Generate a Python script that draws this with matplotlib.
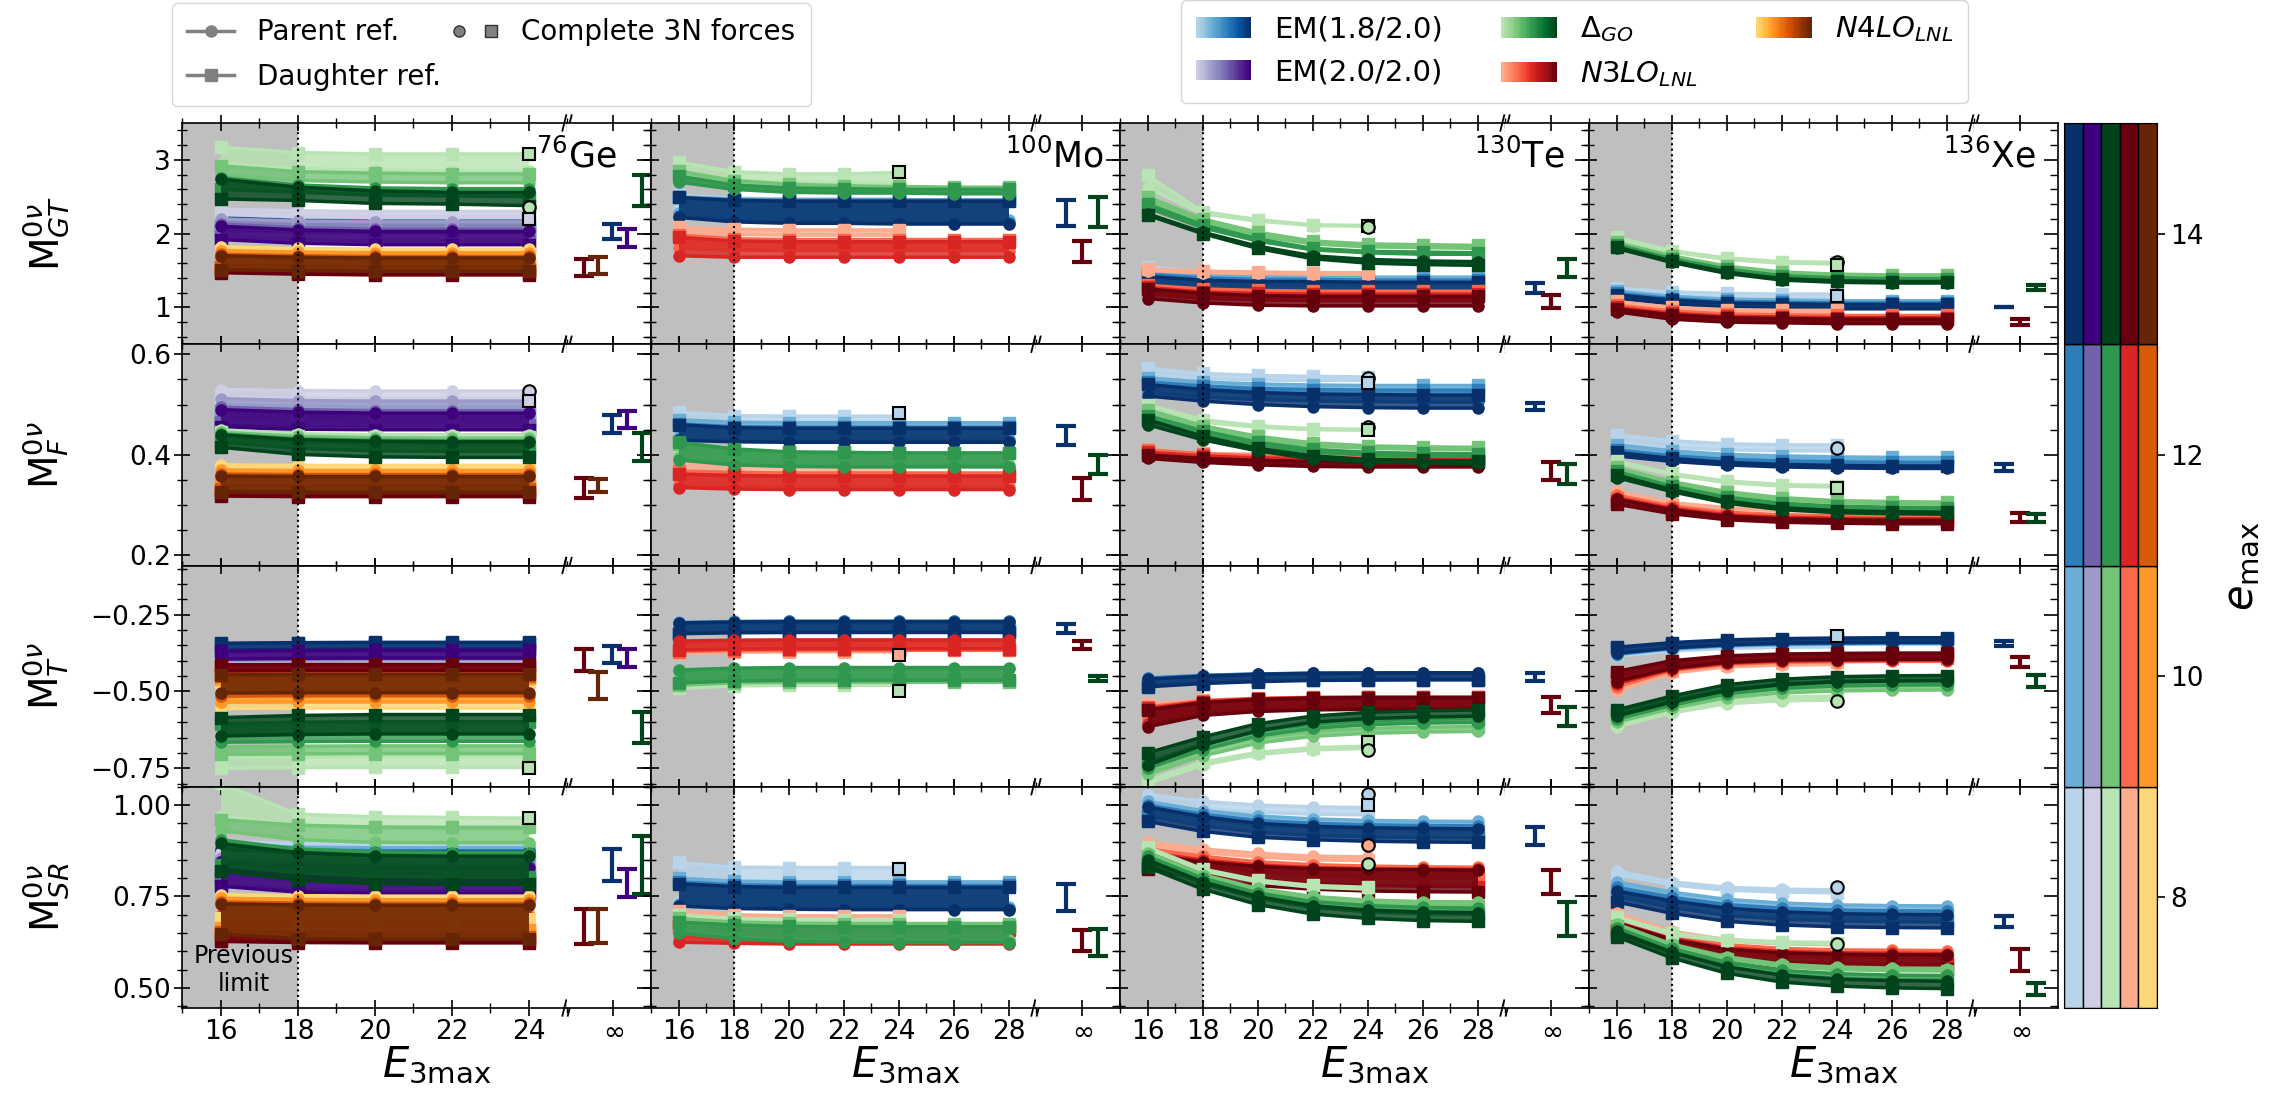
import numpy as np
import matplotlib
matplotlib.use('Agg')
import matplotlib.pyplot as plt
from matplotlib.lines import Line2D
from matplotlib.patches import Rectangle
from matplotlib.legend_handler import HandlerBase, HandlerTuple
from matplotlib.ticker import MultipleLocator, FixedLocator

# E3max grids
e3_ge = [16, 18, 20, 22, 24]
e3_rest = [16, 18, 20, 22, 24, 26, 28]

# curves: interaction -> emax -> (parent ref., daughter ref.)
ge_gt = {
    'EM18': {8: ([2.28, 2.25, 2.24, 2.24, 2.24], [2.22, 2.19, 2.18, 2.18, 2.18]),
             10: ([2.24, 2.21, 2.20, 2.20, 2.20], [2.16, 2.13, 2.12, 2.12, 2.12]),
             12: ([2.22, 2.18, 2.17, 2.17, 2.17], [2.10, 2.07, 2.06, 2.06, 2.06]),
             14: ([2.21, 2.17, 2.16, 2.16, 2.16], [2.05, 2.02, 2.01, 2.01, 2.01])},
    'EM20': {8: ([2.33, 2.31, 2.30, 2.30, 2.30], [2.26, 2.23, 2.22, 2.22, 2.22]),
             10: ([2.20, 2.17, 2.16, 2.16, 2.16], [2.08, 2.05, 2.04, 2.04, 2.04]),
             12: ([2.13, 2.08, 2.06, 2.06, 2.06], [1.96, 1.92, 1.90, 1.90, 1.90]),
             14: ([2.10, 2.05, 2.03, 2.03, 2.03], [1.92, 1.87, 1.85, 1.85, 1.85])},
    'N3LO': {8: ([1.74, 1.72, 1.71, 1.71, 1.71], [1.60, 1.58, 1.57, 1.57, 1.57]),
             10: ([1.70, 1.68, 1.67, 1.67, 1.67], [1.55, 1.53, 1.52, 1.52, 1.52]),
             12: ([1.67, 1.65, 1.64, 1.64, 1.64], [1.51, 1.49, 1.48, 1.48, 1.48]),
             14: ([1.65, 1.63, 1.62, 1.62, 1.62], [1.47, 1.45, 1.44, 1.44, 1.44])},
    'N4LO': {8: ([1.82, 1.80, 1.79, 1.79, 1.79], [1.76, 1.74, 1.73, 1.73, 1.73]),
             10: ([1.77, 1.75, 1.74, 1.74, 1.74], [1.62, 1.60, 1.59, 1.59, 1.59]),
             12: ([1.72, 1.70, 1.69, 1.69, 1.69], [1.55, 1.53, 1.52, 1.52, 1.52]),
             14: ([1.70, 1.68, 1.67, 1.67, 1.67], [1.51, 1.50, 1.49, 1.49, 1.49])},
    'DGO': {8: ([2.95, 2.88, 2.86, 2.85, 2.85], [3.17, 3.10, 3.08, 3.08, 3.08]),
            10: ([2.80, 2.72, 2.70, 2.69, 2.69], [2.92, 2.84, 2.82, 2.81, 2.81]),
            12: ([2.76, 2.66, 2.62, 2.61, 2.61], [2.60, 2.56, 2.52, 2.51, 2.50]),
            14: ([2.74, 2.63, 2.58, 2.56, 2.56], [2.47, 2.45, 2.41, 2.40, 2.38])},
}
ge_f = {
    'EM18': {8: ([0.515, 0.512, 0.511, 0.511, 0.511], [0.505, 0.502, 0.501, 0.501, 0.501]),
             10: ([0.500, 0.497, 0.496, 0.496, 0.496], [0.488, 0.485, 0.484, 0.484, 0.484]),
             12: ([0.488, 0.485, 0.484, 0.484, 0.484], [0.472, 0.469, 0.468, 0.468, 0.468]),
             14: ([0.482, 0.479, 0.478, 0.478, 0.478], [0.462, 0.459, 0.458, 0.458, 0.458])},
    'EM20': {8: ([0.530, 0.528, 0.527, 0.527, 0.527], [0.515, 0.513, 0.512, 0.512, 0.512]),
             10: ([0.512, 0.508, 0.507, 0.507, 0.507], [0.490, 0.487, 0.486, 0.486, 0.486]),
             12: ([0.495, 0.490, 0.488, 0.488, 0.488], [0.465, 0.461, 0.460, 0.460, 0.460]),
             14: ([0.490, 0.485, 0.483, 0.483, 0.483], [0.455, 0.451, 0.450, 0.450, 0.450])},
    'N3LO': {8: ([0.365, 0.364, 0.364, 0.364, 0.364], [0.340, 0.339, 0.339, 0.339, 0.339]),
             10: ([0.360, 0.359, 0.359, 0.359, 0.359], [0.330, 0.329, 0.329, 0.329, 0.329]),
             12: ([0.356, 0.355, 0.355, 0.355, 0.355], [0.323, 0.322, 0.322, 0.322, 0.322]),
             14: ([0.354, 0.353, 0.353, 0.353, 0.353], [0.318, 0.317, 0.317, 0.317, 0.317])},
    'N4LO': {8: ([0.380, 0.379, 0.379, 0.379, 0.379], [0.372, 0.371, 0.371, 0.371, 0.371]),
             10: ([0.370, 0.369, 0.369, 0.369, 0.369], [0.345, 0.344, 0.344, 0.344, 0.344]),
             12: ([0.362, 0.361, 0.361, 0.361, 0.361], [0.333, 0.332, 0.332, 0.332, 0.332]),
             14: ([0.358, 0.357, 0.357, 0.357, 0.357], [0.327, 0.326, 0.326, 0.326, 0.326])},
    'DGO': {8: ([0.450, 0.442, 0.440, 0.440, 0.440], [0.445, 0.437, 0.435, 0.435, 0.435]),
            10: ([0.445, 0.437, 0.434, 0.433, 0.433], [0.435, 0.425, 0.422, 0.421, 0.421]),
            12: ([0.442, 0.432, 0.429, 0.428, 0.428], [0.425, 0.413, 0.408, 0.407, 0.407]),
            14: ([0.440, 0.430, 0.427, 0.426, 0.426], [0.415, 0.401, 0.396, 0.395, 0.395])},
}
ge_t = {
    'EM18': {8: ([-0.370, -0.368, -0.367, -0.367, -0.367], [-0.352, -0.350, -0.349, -0.349, -0.349]),
             10: ([-0.368, -0.366, -0.365, -0.365, -0.365], [-0.348, -0.346, -0.345, -0.345, -0.345]),
             12: ([-0.366, -0.364, -0.363, -0.363, -0.363], [-0.345, -0.343, -0.342, -0.342, -0.342]),
             14: ([-0.365, -0.363, -0.362, -0.362, -0.362], [-0.343, -0.341, -0.340, -0.340, -0.340])},
    'EM20': {8: ([-0.405, -0.403, -0.402, -0.402, -0.402], [-0.385, -0.383, -0.382, -0.382, -0.382]),
             10: ([-0.400, -0.398, -0.397, -0.397, -0.397], [-0.378, -0.376, -0.375, -0.375, -0.375]),
             12: ([-0.396, -0.394, -0.393, -0.393, -0.393], [-0.372, -0.370, -0.369, -0.369, -0.369]),
             14: ([-0.394, -0.392, -0.391, -0.391, -0.391], [-0.369, -0.367, -0.366, -0.366, -0.366])},
    'N3LO': {8: ([-0.440, -0.439, -0.439, -0.439, -0.439], [-0.425, -0.424, -0.424, -0.424, -0.424]),
             10: ([-0.437, -0.436, -0.436, -0.436, -0.436], [-0.420, -0.419, -0.419, -0.419, -0.419]),
             12: ([-0.434, -0.433, -0.433, -0.433, -0.433], [-0.416, -0.415, -0.415, -0.415, -0.415]),
             14: ([-0.432, -0.431, -0.431, -0.431, -0.431], [-0.413, -0.412, -0.412, -0.412, -0.412])},
    'N4LO': {8: ([-0.555, -0.554, -0.554, -0.554, -0.554], [-0.470, -0.469, -0.469, -0.469, -0.469]),
             10: ([-0.535, -0.534, -0.534, -0.534, -0.534], [-0.458, -0.457, -0.457, -0.457, -0.457]),
             12: ([-0.515, -0.514, -0.514, -0.514, -0.514], [-0.450, -0.449, -0.449, -0.449, -0.449]),
             14: ([-0.505, -0.504, -0.504, -0.504, -0.504], [-0.445, -0.444, -0.444, -0.444, -0.444])},
    'DGO': {8: ([-0.715, -0.713, -0.712, -0.712, -0.712], [-0.750, -0.748, -0.747, -0.747, -0.747]),
            10: ([-0.680, -0.678, -0.677, -0.677, -0.677], [-0.705, -0.703, -0.702, -0.702, -0.702]),
            12: ([-0.665, -0.663, -0.662, -0.662, -0.662], [-0.605, -0.600, -0.598, -0.598, -0.598]),
            14: ([-0.645, -0.640, -0.638, -0.638, -0.638], [-0.585, -0.578, -0.575, -0.575, -0.575])},
}
ge_sr = {
    'EM18': {8: ([0.900, 0.895, 0.893, 0.893, 0.893], [0.885, 0.880, 0.878, 0.878, 0.878]),
             10: ([0.890, 0.885, 0.883, 0.883, 0.883], [0.860, 0.855, 0.853, 0.853, 0.853]),
             12: ([0.882, 0.877, 0.875, 0.875, 0.875], [0.820, 0.815, 0.813, 0.813, 0.813]),
             14: ([0.878, 0.873, 0.871, 0.871, 0.871], [0.800, 0.795, 0.793, 0.793, 0.793])},
    'EM20': {8: ([0.870, 0.860, 0.858, 0.858, 0.858], [0.840, 0.830, 0.828, 0.828, 0.828]),
             10: ([0.855, 0.845, 0.843, 0.843, 0.843], [0.800, 0.790, 0.788, 0.788, 0.788]),
             12: ([0.848, 0.836, 0.833, 0.833, 0.833], [0.785, 0.770, 0.765, 0.765, 0.765]),
             14: ([0.845, 0.832, 0.829, 0.829, 0.829], [0.778, 0.762, 0.758, 0.758, 0.758])},
    'N3LO': {8: ([0.705, 0.702, 0.701, 0.701, 0.701], [0.660, 0.657, 0.656, 0.656, 0.656]),
             10: ([0.700, 0.697, 0.696, 0.696, 0.696], [0.650, 0.647, 0.646, 0.646, 0.646]),
             12: ([0.696, 0.693, 0.692, 0.692, 0.692], [0.635, 0.632, 0.631, 0.631, 0.631]),
             14: ([0.694, 0.691, 0.690, 0.690, 0.690], [0.627, 0.624, 0.623, 0.623, 0.623])},
    'N4LO': {8: ([0.755, 0.752, 0.751, 0.751, 0.751], [0.690, 0.688, 0.687, 0.687, 0.687]),
             10: ([0.745, 0.742, 0.741, 0.741, 0.741], [0.665, 0.660, 0.659, 0.659, 0.659]),
             12: ([0.735, 0.732, 0.731, 0.731, 0.731], [0.652, 0.640, 0.638, 0.638, 0.638]),
             14: ([0.730, 0.727, 0.726, 0.726, 0.726], [0.647, 0.635, 0.633, 0.633, 0.633])},
    'DGO': {8: ([0.970, 0.945, 0.938, 0.936, 0.936], [1.060, 0.975, 0.968, 0.966, 0.964]),
            10: ([0.930, 0.905, 0.898, 0.897, 0.897], [0.960, 0.945, 0.940, 0.939, 0.939]),
            12: ([0.905, 0.880, 0.872, 0.870, 0.870], [0.835, 0.815, 0.805, 0.803, 0.803]),
            14: ([0.895, 0.870, 0.862, 0.860, 0.860], [0.820, 0.795, 0.785, 0.783, 0.783])},
}

mo_gt = {
    'EM18': {8: ([2.35, 2.30, 2.28, 2.28, 2.28], [2.52, 2.48, 2.47, 2.47, 2.47]),
             10: ([2.28, 2.22, 2.20, 2.20, 2.19, 2.19, 2.19], [2.50, 2.47, 2.46, 2.46, 2.46, 2.46, 2.46]),
             12: ([2.24, 2.18, 2.16, 2.16, 2.15, 2.15, 2.15], [2.49, 2.46, 2.45, 2.45, 2.45, 2.45, 2.45]),
             14: ([2.22, 2.16, 2.14, 2.14, 2.13, 2.13, 2.13], [2.49, 2.45, 2.44, 2.44, 2.44, 2.44, 2.44])},
    'N3LO': {8: ([2.02, 1.99, 1.98, 1.98, 1.98], [2.09, 2.06, 2.05, 2.05, 2.05]),
             10: ([1.80, 1.78, 1.77, 1.77, 1.77, 1.77, 1.77], [1.98, 1.93, 1.92, 1.92, 1.92, 1.92, 1.92]),
             12: ([1.70, 1.68, 1.68, 1.68, 1.68, 1.68, 1.68], [1.95, 1.90, 1.89, 1.89, 1.89, 1.89, 1.89])},
    'DGO': {8: ([2.80, 2.72, 2.70, 2.69, 2.69], [2.97, 2.84, 2.81, 2.81, 2.83]),
            10: ([2.75, 2.64, 2.60, 2.58, 2.58, 2.57, 2.57], [2.85, 2.72, 2.67, 2.65, 2.64, 2.63, 2.63]),
            12: ([2.70, 2.60, 2.56, 2.55, 2.55, 2.54, 2.54], [2.78, 2.66, 2.62, 2.61, 2.60, 2.60, 2.60])},
}
mo_f = {
    'EM18': {8: ([0.440, 0.437, 0.436, 0.436, 0.436], [0.485, 0.478, 0.477, 0.477, 0.477]),
             10: ([0.435, 0.432, 0.431, 0.431, 0.431, 0.431, 0.431], [0.470, 0.465, 0.464, 0.464, 0.464, 0.464, 0.464]),
             12: ([0.431, 0.428, 0.427, 0.427, 0.427, 0.427, 0.427], [0.462, 0.456, 0.455, 0.455, 0.455, 0.455, 0.455]),
             14: ([0.429, 0.426, 0.425, 0.425, 0.425, 0.425, 0.425], [0.460, 0.454, 0.453, 0.453, 0.453, 0.453, 0.453])},
    'N3LO': {8: ([0.360, 0.358, 0.357, 0.357, 0.357], [0.385, 0.382, 0.381, 0.381, 0.381]),
             10: ([0.340, 0.337, 0.336, 0.336, 0.336, 0.336, 0.336], [0.368, 0.365, 0.364, 0.364, 0.364, 0.364, 0.364]),
             12: ([0.335, 0.332, 0.331, 0.331, 0.331, 0.331, 0.331], [0.362, 0.359, 0.358, 0.358, 0.358, 0.358, 0.358])},
    'DGO': {8: ([0.400, 0.392, 0.390, 0.389, 0.389], [0.420, 0.405, 0.400, 0.399, 0.399]),
            10: ([0.395, 0.385, 0.381, 0.380, 0.380, 0.380, 0.380], [0.422, 0.410, 0.405, 0.404, 0.403, 0.403, 0.403]),
            12: ([0.390, 0.380, 0.377, 0.376, 0.376, 0.376, 0.376], [0.425, 0.412, 0.406, 0.405, 0.404, 0.404, 0.404])},
}
mo_t = {
    'EM18': {8: ([-0.275, -0.272, -0.271, -0.271, -0.271], [-0.300, -0.297, -0.296, -0.296, -0.296]),
             10: ([-0.275, -0.272, -0.271, -0.271, -0.271, -0.271, -0.271], [-0.305, -0.302, -0.301, -0.301, -0.301, -0.301, -0.301]),
             12: ([-0.276, -0.273, -0.272, -0.272, -0.272, -0.272, -0.272], [-0.310, -0.307, -0.306, -0.306, -0.306, -0.306, -0.306]),
             14: ([-0.277, -0.274, -0.273, -0.273, -0.273, -0.273, -0.273], [-0.312, -0.309, -0.308, -0.308, -0.308, -0.308, -0.308])},
    'N3LO': {8: ([-0.345, -0.342, -0.341, -0.341, -0.341], [-0.375, -0.372, -0.371, -0.371, -0.371]),
             10: ([-0.340, -0.337, -0.336, -0.336, -0.336, -0.336, -0.336], [-0.370, -0.367, -0.366, -0.366, -0.366, -0.366, -0.366]),
             12: ([-0.336, -0.333, -0.332, -0.332, -0.332, -0.332, -0.332], [-0.365, -0.362, -0.361, -0.361, -0.361, -0.361, -0.361])},
    'DGO': {8: ([-0.440, -0.432, -0.430, -0.430, -0.430], [-0.490, -0.482, -0.480, -0.480, -0.480]),
            10: ([-0.435, -0.428, -0.426, -0.426, -0.426, -0.426, -0.426], [-0.480, -0.472, -0.470, -0.470, -0.470, -0.470, -0.470]),
            12: ([-0.430, -0.424, -0.422, -0.422, -0.422, -0.422, -0.422], [-0.472, -0.466, -0.464, -0.464, -0.464, -0.464, -0.464])},
}
mo_sr = {
    'EM18': {8: ([0.735, 0.728, 0.726, 0.726, 0.726], [0.843, 0.830, 0.829, 0.829, 0.829]),
             10: ([0.730, 0.723, 0.721, 0.720, 0.720, 0.720, 0.720], [0.800, 0.792, 0.790, 0.790, 0.790, 0.790, 0.790]),
             12: ([0.726, 0.719, 0.717, 0.716, 0.716, 0.716, 0.716], [0.790, 0.782, 0.780, 0.780, 0.780, 0.780, 0.780]),
             14: ([0.724, 0.717, 0.715, 0.714, 0.714, 0.714, 0.714], [0.785, 0.777, 0.775, 0.775, 0.775, 0.775, 0.775])},
    'N3LO': {8: ([0.660, 0.652, 0.650, 0.650, 0.650], [0.710, 0.700, 0.697, 0.697, 0.697]),
             10: ([0.640, 0.632, 0.630, 0.630, 0.630, 0.630, 0.630], [0.680, 0.672, 0.670, 0.670, 0.670, 0.670, 0.670]),
             12: ([0.625, 0.622, 0.620, 0.620, 0.620, 0.620, 0.620], [0.668, 0.660, 0.658, 0.658, 0.658, 0.658, 0.658])},
    'DGO': {8: ([0.690, 0.680, 0.677, 0.676, 0.676], [0.700, 0.690, 0.687, 0.686, 0.686]),
            10: ([0.655, 0.640, 0.632, 0.630, 0.630, 0.630, 0.630], [0.690, 0.680, 0.677, 0.676, 0.676, 0.676, 0.676]),
            12: ([0.650, 0.635, 0.627, 0.625, 0.624, 0.624, 0.624], [0.680, 0.672, 0.668, 0.667, 0.667, 0.667, 0.667])},
}

te_gt = {
    'EM18': {8: ([1.42, 1.40, 1.40, 1.39, 1.39], [1.55, 1.48, 1.46, 1.45, 1.45]),
             10: ([1.36, 1.32, 1.30, 1.30, 1.30, 1.30, 1.30], [1.50, 1.44, 1.42, 1.41, 1.41, 1.41, 1.41]),
             12: ([1.30, 1.26, 1.24, 1.23, 1.23, 1.23, 1.23], [1.45, 1.40, 1.38, 1.38, 1.37, 1.37, 1.37]),
             14: ([1.27, 1.23, 1.21, 1.20, 1.20, 1.20, 1.20], [1.42, 1.37, 1.35, 1.35, 1.34, 1.34, 1.34])},
    'N3LO': {8: ([1.50, 1.47, 1.46, 1.45, 1.45], [1.52, 1.49, 1.48, 1.47, 1.47]),
             10: ([1.22, 1.17, 1.15, 1.14, 1.14, 1.14, 1.14], [1.30, 1.25, 1.23, 1.22, 1.22, 1.22, 1.22]),
             12: ([1.18, 1.12, 1.10, 1.09, 1.09, 1.09, 1.09], [1.27, 1.21, 1.19, 1.18, 1.18, 1.18, 1.18]),
             14: ([1.12, 1.06, 1.03, 1.02, 1.02, 1.02, 1.02], [1.25, 1.19, 1.16, 1.15, 1.15, 1.15, 1.15])},
    'DGO': {8: ([2.62, 2.27, 2.17, 2.11, 2.10], [2.79, 2.30, 2.19, 2.12, 2.11]),
            10: ([2.45, 2.15, 1.97, 1.86, 1.82, 1.81, 1.80], [2.50, 2.20, 2.02, 1.90, 1.86, 1.85, 1.84]),
            12: ([2.35, 2.08, 1.90, 1.78, 1.74, 1.72, 1.72], [2.40, 2.12, 1.93, 1.80, 1.76, 1.75, 1.74]),
            14: ([2.27, 2.02, 1.83, 1.70, 1.65, 1.63, 1.62], [2.25, 2.00, 1.80, 1.66, 1.60, 1.58, 1.57])},
}
te_f = {
    'EM18': {8: ([0.560, 0.552, 0.549, 0.548, 0.548], [0.572, 0.562, 0.558, 0.556, 0.555]),
             10: ([0.535, 0.527, 0.523, 0.521, 0.520, 0.520, 0.520], [0.553, 0.545, 0.541, 0.539, 0.538, 0.538, 0.538]),
             12: ([0.525, 0.515, 0.510, 0.507, 0.506, 0.505, 0.505], [0.545, 0.537, 0.532, 0.530, 0.529, 0.529, 0.529]),
             14: ([0.517, 0.507, 0.500, 0.496, 0.494, 0.493, 0.493], [0.540, 0.530, 0.524, 0.521, 0.520, 0.519, 0.519])},
    'N3LO': {8: ([0.405, 0.398, 0.396, 0.396, 0.396], [0.410, 0.403, 0.401, 0.401, 0.401]),
             10: ([0.400, 0.392, 0.388, 0.386, 0.385, 0.385, 0.385], [0.410, 0.402, 0.398, 0.396, 0.395, 0.395, 0.395]),
             12: ([0.397, 0.389, 0.385, 0.382, 0.381, 0.381, 0.381], [0.405, 0.398, 0.394, 0.392, 0.391, 0.391, 0.391]),
             14: ([0.393, 0.385, 0.380, 0.377, 0.376, 0.376, 0.376], [0.400, 0.393, 0.389, 0.387, 0.386, 0.386, 0.386])},
    'DGO': {8: ([0.490, 0.465, 0.455, 0.450, 0.449], [0.500, 0.470, 0.458, 0.452, 0.451]),
            10: ([0.480, 0.450, 0.430, 0.418, 0.413, 0.411, 0.410], [0.490, 0.458, 0.437, 0.424, 0.418, 0.416, 0.415]),
            12: ([0.470, 0.440, 0.418, 0.405, 0.400, 0.398, 0.397], [0.478, 0.448, 0.425, 0.411, 0.405, 0.403, 0.402]),
            14: ([0.460, 0.430, 0.408, 0.392, 0.386, 0.384, 0.383], [0.470, 0.437, 0.413, 0.398, 0.391, 0.389, 0.388])},
}
te_t = {
    'EM18': {8: ([-0.455, -0.448, -0.446, -0.445, -0.445], [-0.470, -0.462, -0.459, -0.458, -0.458]),
             10: ([-0.455, -0.447, -0.443, -0.441, -0.440, -0.440, -0.440], [-0.475, -0.466, -0.462, -0.460, -0.459, -0.459, -0.459]),
             12: ([-0.457, -0.448, -0.443, -0.440, -0.439, -0.439, -0.439], [-0.480, -0.470, -0.465, -0.462, -0.461, -0.461, -0.461]),
             14: ([-0.460, -0.450, -0.444, -0.441, -0.440, -0.439, -0.439], [-0.485, -0.474, -0.468, -0.464, -0.463, -0.462, -0.462])},
    'N3LO': {8: ([-0.560, -0.545, -0.540, -0.538, -0.537], [-0.540, -0.528, -0.524, -0.522, -0.521]),
             10: ([-0.590, -0.560, -0.550, -0.546, -0.545, -0.545, -0.545], [-0.550, -0.530, -0.522, -0.519, -0.518, -0.518, -0.518]),
             12: ([-0.605, -0.570, -0.558, -0.553, -0.552, -0.552, -0.552], [-0.555, -0.533, -0.524, -0.520, -0.519, -0.519, -0.519]),
             14: ([-0.615, -0.578, -0.565, -0.560, -0.558, -0.558, -0.558], [-0.560, -0.536, -0.526, -0.521, -0.520, -0.520, -0.520])},
    'DGO': {8: ([-0.800, -0.740, -0.705, -0.690, -0.685], [-0.790, -0.730, -0.698, -0.683, -0.678]),
            10: ([-0.770, -0.710, -0.668, -0.646, -0.636, -0.632, -0.630], [-0.750, -0.690, -0.650, -0.630, -0.620, -0.616, -0.614]),
            12: ([-0.750, -0.690, -0.645, -0.620, -0.608, -0.603, -0.601], [-0.730, -0.672, -0.630, -0.606, -0.595, -0.590, -0.588]),
            14: ([-0.740, -0.675, -0.628, -0.600, -0.588, -0.583, -0.580], [-0.700, -0.648, -0.605, -0.580, -0.568, -0.563, -0.560])},
}
te_sr = {
    'EM18': {8: ([1.030, 1.010, 1.000, 0.995, 0.993], [1.010, 0.990, 0.980, 0.975, 0.973]),
             10: ([1.010, 0.985, 0.970, 0.962, 0.958, 0.956, 0.955], [0.985, 0.960, 0.945, 0.937, 0.933, 0.931, 0.930]),
             12: ([1.000, 0.975, 0.958, 0.950, 0.946, 0.944, 0.943], [0.970, 0.943, 0.926, 0.917, 0.913, 0.911, 0.910]),
             14: ([0.995, 0.968, 0.950, 0.942, 0.938, 0.936, 0.935], [0.955, 0.928, 0.912, 0.905, 0.901, 0.899, 0.898])},
    'N3LO': {8: ([0.900, 0.880, 0.868, 0.860, 0.858], [0.890, 0.870, 0.858, 0.850, 0.848]),
             10: ([0.880, 0.860, 0.845, 0.837, 0.833, 0.831, 0.830], [0.860, 0.835, 0.818, 0.808, 0.803, 0.801, 0.800]),
             12: ([0.870, 0.850, 0.836, 0.829, 0.826, 0.825, 0.824], [0.840, 0.812, 0.795, 0.785, 0.780, 0.778, 0.777]),
             14: ([0.865, 0.845, 0.832, 0.826, 0.824, 0.823, 0.822], [0.825, 0.797, 0.780, 0.770, 0.765, 0.763, 0.762])},
    'DGO': {8: ([0.880, 0.820, 0.790, 0.775, 0.770], [0.885, 0.825, 0.795, 0.780, 0.775]),
            10: ([0.870, 0.810, 0.772, 0.750, 0.740, 0.736, 0.735], [0.860, 0.800, 0.762, 0.740, 0.730, 0.726, 0.725]),
            12: ([0.860, 0.800, 0.760, 0.736, 0.725, 0.720, 0.718], [0.845, 0.785, 0.745, 0.720, 0.708, 0.703, 0.701]),
            14: ([0.850, 0.790, 0.750, 0.725, 0.713, 0.708, 0.706], [0.830, 0.770, 0.728, 0.702, 0.690, 0.684, 0.682])},
}

xe_gt = {
    'EM18': {8: ([1.20, 1.15, 1.13, 1.12, 1.12], [1.26, 1.21, 1.19, 1.18, 1.18]),
             10: ([1.15, 1.09, 1.05, 1.04, 1.03, 1.03, 1.03], [1.22, 1.15, 1.11, 1.10, 1.09, 1.09, 1.09]),
             12: ([1.13, 1.06, 1.02, 1.01, 1.00, 1.00, 1.00], [1.19, 1.12, 1.08, 1.07, 1.06, 1.06, 1.06]),
             14: ([1.12, 1.05, 1.00, 0.99, 0.98, 0.98, 0.98], [1.17, 1.10, 1.06, 1.05, 1.04, 1.04, 1.04])},
    'N3LO': {8: ([1.05, 0.97, 0.94, 0.93, 0.93], [1.08, 1.00, 0.97, 0.96, 0.96]),
             10: ([0.98, 0.90, 0.86, 0.85, 0.84, 0.84, 0.84], [1.03, 0.95, 0.91, 0.90, 0.89, 0.89, 0.89]),
             12: ([0.95, 0.86, 0.82, 0.81, 0.80, 0.80, 0.80], [1.00, 0.92, 0.88, 0.87, 0.86, 0.86, 0.86]),
             14: ([0.94, 0.84, 0.80, 0.79, 0.78, 0.78, 0.78], [0.98, 0.90, 0.86, 0.85, 0.84, 0.84, 0.84])},
    'DGO': {8: ([1.92, 1.75, 1.65, 1.60, 1.59], [1.95, 1.77, 1.67, 1.62, 1.61]),
            10: ([1.86, 1.68, 1.54, 1.46, 1.43, 1.42, 1.42], [1.88, 1.70, 1.56, 1.48, 1.45, 1.44, 1.44]),
            12: ([1.83, 1.64, 1.50, 1.41, 1.38, 1.37, 1.37], [1.85, 1.66, 1.52, 1.43, 1.40, 1.39, 1.39]),
            14: ([1.80, 1.61, 1.46, 1.37, 1.34, 1.33, 1.33], [1.82, 1.63, 1.48, 1.39, 1.36, 1.35, 1.35])},
}
xe_f = {
    'EM18': {8: ([0.425, 0.415, 0.410, 0.408, 0.408], [0.440, 0.428, 0.422, 0.420, 0.420]),
             10: ([0.410, 0.400, 0.394, 0.391, 0.390, 0.389, 0.389], [0.420, 0.408, 0.401, 0.398, 0.396, 0.395, 0.395]),
             12: ([0.402, 0.392, 0.385, 0.381, 0.380, 0.379, 0.379], [0.410, 0.398, 0.391, 0.388, 0.386, 0.385, 0.385]),
             14: ([0.398, 0.387, 0.380, 0.376, 0.374, 0.373, 0.373], [0.405, 0.393, 0.385, 0.381, 0.379, 0.378, 0.378])},
    'N3LO': {8: ([0.328, 0.305, 0.295, 0.291, 0.290], [0.325, 0.303, 0.293, 0.289, 0.288]),
             10: ([0.320, 0.298, 0.286, 0.281, 0.279, 0.278, 0.278], [0.315, 0.294, 0.282, 0.277, 0.275, 0.274, 0.274]),
             12: ([0.315, 0.294, 0.281, 0.276, 0.274, 0.273, 0.273], [0.308, 0.288, 0.276, 0.271, 0.269, 0.268, 0.268]),
             14: ([0.312, 0.291, 0.278, 0.273, 0.271, 0.270, 0.270], [0.302, 0.283, 0.271, 0.266, 0.264, 0.263, 0.263])},
    'DGO': {8: ([0.385, 0.360, 0.345, 0.338, 0.336], [0.388, 0.363, 0.348, 0.341, 0.339]),
            10: ([0.370, 0.343, 0.322, 0.311, 0.305, 0.303, 0.302], [0.375, 0.347, 0.327, 0.315, 0.309, 0.307, 0.306]),
            12: ([0.362, 0.334, 0.312, 0.300, 0.294, 0.292, 0.291], [0.367, 0.338, 0.316, 0.304, 0.298, 0.296, 0.295]),
            14: ([0.355, 0.327, 0.304, 0.291, 0.285, 0.283, 0.282], [0.360, 0.331, 0.308, 0.295, 0.289, 0.287, 0.286])},
}
xe_t = {
    'EM18': {8: ([-0.385, -0.368, -0.360, -0.356, -0.355], [-0.375, -0.360, -0.352, -0.348, -0.347]),
             10: ([-0.380, -0.362, -0.352, -0.348, -0.346, -0.345, -0.345], [-0.365, -0.350, -0.341, -0.337, -0.335, -0.334, -0.334]),
             12: ([-0.378, -0.360, -0.350, -0.345, -0.343, -0.342, -0.342], [-0.360, -0.345, -0.336, -0.332, -0.330, -0.329, -0.329]),
             14: ([-0.376, -0.358, -0.348, -0.343, -0.341, -0.340, -0.340], [-0.356, -0.341, -0.332, -0.328, -0.326, -0.325, -0.325])},
    'N3LO': {8: ([-0.500, -0.440, -0.420, -0.414, -0.412], [-0.490, -0.432, -0.413, -0.407, -0.405]),
             10: ([-0.485, -0.432, -0.412, -0.405, -0.403, -0.402, -0.402], [-0.465, -0.418, -0.400, -0.394, -0.392, -0.391, -0.391]),
             12: ([-0.475, -0.428, -0.408, -0.401, -0.399, -0.398, -0.398], [-0.448, -0.408, -0.391, -0.385, -0.383, -0.382, -0.382]),
             14: ([-0.468, -0.425, -0.405, -0.398, -0.396, -0.395, -0.395], [-0.435, -0.400, -0.384, -0.378, -0.376, -0.375, -0.375])},
    'DGO': {8: ([-0.615, -0.570, -0.540, -0.530, -0.528], [-0.600, -0.556, -0.528, -0.518, -0.515]),
            10: ([-0.600, -0.555, -0.520, -0.505, -0.498, -0.496, -0.495], [-0.585, -0.540, -0.505, -0.490, -0.483, -0.481, -0.480]),
            12: ([-0.590, -0.545, -0.508, -0.490, -0.482, -0.479, -0.478], [-0.572, -0.528, -0.492, -0.475, -0.467, -0.464, -0.463]),
            14: ([-0.580, -0.535, -0.497, -0.478, -0.469, -0.466, -0.465], [-0.560, -0.515, -0.478, -0.460, -0.452, -0.449, -0.448])},
}
xe_sr = {
    'EM18': {8: ([0.820, 0.790, 0.775, 0.770, 0.768], [0.810, 0.782, 0.767, 0.762, 0.760]),
             10: ([0.790, 0.762, 0.742, 0.732, 0.727, 0.725, 0.724], [0.770, 0.740, 0.720, 0.710, 0.705, 0.703, 0.702]),
             12: ([0.775, 0.748, 0.728, 0.718, 0.713, 0.711, 0.710], [0.750, 0.720, 0.698, 0.688, 0.683, 0.681, 0.680]),
             14: ([0.765, 0.738, 0.718, 0.708, 0.703, 0.701, 0.700], [0.735, 0.704, 0.682, 0.672, 0.667, 0.665, 0.664])},
    'N3LO': {8: ([0.705, 0.655, 0.632, 0.624, 0.622], [0.700, 0.650, 0.628, 0.620, 0.618]),
             10: ([0.690, 0.643, 0.618, 0.608, 0.604, 0.603, 0.602], [0.675, 0.625, 0.598, 0.588, 0.584, 0.583, 0.582]),
             12: ([0.682, 0.636, 0.610, 0.600, 0.596, 0.595, 0.594], [0.660, 0.608, 0.580, 0.570, 0.566, 0.565, 0.564]),
             14: ([0.678, 0.632, 0.606, 0.596, 0.592, 0.591, 0.590], [0.650, 0.597, 0.568, 0.558, 0.554, 0.553, 0.552])},
    'DGO': {8: ([0.690, 0.645, 0.628, 0.622, 0.620], [0.695, 0.650, 0.632, 0.626, 0.624]),
            10: ([0.675, 0.620, 0.585, 0.565, 0.557, 0.554, 0.553], [0.670, 0.615, 0.578, 0.558, 0.550, 0.547, 0.546]),
            12: ([0.665, 0.608, 0.570, 0.548, 0.539, 0.535, 0.534], [0.655, 0.598, 0.558, 0.536, 0.526, 0.522, 0.521]),
            14: ([0.655, 0.598, 0.558, 0.535, 0.524, 0.520, 0.518], [0.640, 0.582, 0.540, 0.516, 0.505, 0.500, 0.498])},
}

# extrapolated E3max -> infinity ranges (low, high)
inf_ge = {
    'GT': {'N3LO': (1.43, 1.66), 'N4LO': (1.45, 1.68), 'EM18': (1.93, 2.13), 'EM20': (1.82, 2.06), 'DGO': (2.38, 2.79)},
    'F': {'N3LO': (0.315, 0.355), 'N4LO': (0.327, 0.353), 'EM18': (0.443, 0.48), 'EM20': (0.453, 0.487), 'DGO': (0.387, 0.443)},
    'T': {'N3LO': (-0.433, -0.363), 'N4LO': (-0.524, -0.438), 'EM18': (-0.406, -0.352), 'EM20': (-0.42, -0.363), 'DGO': (-0.669, -0.567)},
    'SR': {'N3LO': (0.62, 0.716), 'N4LO': (0.623, 0.716), 'EM18': (0.793, 0.879), 'EM20': (0.748, 0.825), 'DGO': (0.756, 0.915)},
}
inf_mo = {
    'GT': {'EM18': (2.11, 2.45), 'N3LO': (1.61, 1.90), 'DGO': (2.09, 2.50)},
    'F': {'EM18': (0.42, 0.457), 'N3LO': (0.311, 0.355), 'DGO': (0.361, 0.40)},
    'T': {'EM18': (-0.309, -0.28), 'N3LO': (-0.363, -0.336), 'DGO': (-0.467, -0.451)},
    'SR': {'EM18': (0.71, 0.785), 'N3LO': (0.602, 0.659), 'DGO': (0.588, 0.661)},
}
inf_te = {
    'GT': {'EM18': (1.19, 1.33), 'N3LO': (0.99, 1.17), 'DGO': (1.41, 1.66)},
    'F': {'EM18': (0.489, 0.503), 'N3LO': (0.351, 0.385), 'DGO': (0.343, 0.381)},
    'T': {'EM18': (-0.465, -0.441), 'N3LO': (-0.569, -0.517), 'DGO': (-0.613, -0.551)},
    'SR': {'EM18': (0.891, 0.94), 'N3LO': (0.756, 0.823), 'DGO': (0.643, 0.734)},
}
inf_xe = {
    'GT': {'EM18': (1.00, 1.01), 'N3LO': (0.76, 0.84), 'DGO': (1.24, 1.30)},
    'F': {'EM18': (0.368, 0.381), 'N3LO': (0.267, 0.285), 'DGO': (0.267, 0.283)},
    'T': {'EM18': (-0.352, -0.336), 'N3LO': (-0.42, -0.387), 'DGO': (-0.487, -0.446)},
    'SR': {'EM18': (0.667, 0.697), 'N3LO': (0.545, 0.606), 'DGO': (0.481, 0.513)},
}

# complete 3N forces points at E3max = 24: (interaction, marker, value)
c3n_ge = {'GT': [('DGO', 's', 3.08), ('DGO', 'o', 2.36), ('EM20', 's', 2.20)],
          'F': [('EM20', 'o', 0.527), ('EM20', 's', 0.507)],
          'T': [('DGO', 's', -0.75)],
          'SR': [('DGO', 's', 0.964)]}
c3n_mo = {'GT': [('DGO', 's', 2.83)], 'F': [('EM18', 's', 0.483)],
          'T': [('N3LO', 's', -0.38), ('DGO', 's', -0.497)], 'SR': [('EM18', 's', 0.824)]}
c3n_te = {'GT': [('DGO', 's', 2.11), ('DGO', 'o', 2.09)],
          'F': [('EM18', 'o', 0.553), ('EM18', 's', 0.543), ('DGO', 'o', 0.455), ('DGO', 's', 0.45)],
          'T': [('DGO', 's', -0.665), ('DGO', 'o', -0.69)],
          'SR': [('EM18', 'o', 1.03), ('EM18', 's', 1.0), ('N3LO', 'o', 0.89), ('DGO', 'o', 0.84)]}
c3n_xe = {'GT': [('DGO', 'o', 1.61), ('DGO', 's', 1.57), ('EM18', 's', 1.16)],
          'F': [('EM18', 'o', 0.413), ('DGO', 's', 0.335)],
          'T': [('EM18', 's', -0.32), ('DGO', 'o', -0.53)],
          'SR': [('EM18', 'o', 0.775), ('DGO', 'o', 0.62)]}

nuclei = ['ge', 'mo', 'te', 'xe']
nucleus_labels = [r'$^{76}$Ge', r'$^{100}$Mo', r'$^{130}$Te', r'$^{136}$Xe']
operators = ['GT', 'F', 'T', 'SR']
operator_labels = [r'M$^{0\nu}_{GT}$', r'M$^{0\nu}_{F}$', r'M$^{0\nu}_{T}$', r'M$^{0\nu}_{SR}$']
emax_values = [8, 10, 12, 14]

curves = {
    'ge': {'GT': ge_gt, 'F': ge_f, 'T': ge_t, 'SR': ge_sr},
    'mo': {'GT': mo_gt, 'F': mo_f, 'T': mo_t, 'SR': mo_sr},
    'te': {'GT': te_gt, 'F': te_f, 'T': te_t, 'SR': te_sr},
    'xe': {'GT': xe_gt, 'F': xe_f, 'T': xe_t, 'SR': xe_sr},
}
inf_ranges = {'ge': inf_ge, 'mo': inf_mo, 'te': inf_te, 'xe': inf_xe}
complete3n = {'ge': c3n_ge, 'mo': c3n_mo, 'te': c3n_te, 'xe': c3n_xe}

# styling
CMAPS = {'EM18': 'Blues', 'EM20': 'Purples', 'DGO': 'Greens', 'N3LO': 'Reds', 'N4LO': 'YlOrBr'}
SHADE = {8: 0.3, 10: 0.5, 12: 0.7, 14: 1.0}
DRAW_ORDER = ['EM18', 'EM20', 'N3LO', 'N4LO', 'DGO']
INF_POS = {'ge': {'N3LO': 0.2, 'N4LO': 0.37, 'EM18': 0.53, 'EM20': 0.72, 'DGO': 0.89},
           'rest': {'EM18': 0.36, 'N3LO': 0.55, 'DGO': 0.74}}
YLIMS = [(0.5, 3.5), (0.18, 0.62), (-0.81, -0.09), (0.445, 1.05)]
YMAJOR = [[1, 2, 3], [0.2, 0.4, 0.6], [-0.75, -0.5, -0.25], [0.5, 0.75, 1.0]]
YMINOR = [0.2, 0.05, 0.05, 0.05]


def shade(key, emax):
    return plt.get_cmap(CMAPS[key])(SHADE[emax])


class GradientKey:
    def __init__(self, cmap):
        self.cmap = cmap


class GradientHandler(HandlerBase):
    def create_artists(self, legend, orig_handle, xdescent, ydescent,
                       width, height, fontsize, trans):
        cols = plt.get_cmap(orig_handle.cmap)(np.linspace(0.3, 1.0, 24))
        step = width / len(cols)
        return [Rectangle((-xdescent + i * step, -ydescent), step * 1.05, height,
                          facecolor=cc, edgecolor='none', transform=trans)
                for i, cc in enumerate(cols)]


W, H = 2282, 1095
fig = plt.figure(figsize=(W / 100, H / 100), dpi=100)

x0, main_w, inf_w = 182, 385, 84
row_top, row_h = 123, 221.25

for r, op in enumerate(operators):
    bottom = H - (row_top + (r + 1) * row_h)
    for c, nuc in enumerate(nuclei):
        left = x0 + c * (main_w + inf_w)
        ax = fig.add_axes([left / W, bottom / H, main_w / W, row_h / H])
        axi = fig.add_axes([(left + main_w) / W, bottom / H, inf_w / W, row_h / H])

        grid = e3_ge if nuc == 'ge' else e3_rest
        xmax = 25 if nuc == 'ge' else 29

        # previous limit shading
        ax.axvspan(15, 18, color='#bfbfbf', lw=0, zorder=0)
        ax.axvline(18, color='k', ls=':', lw=1.5, zorder=6)

        data = curves[nuc][op]
        for key in DRAW_ORDER:
            if key not in data:
                continue
            for em in emax_values:
                if em not in data[key]:
                    continue
                par, dau = data[key][em]
                x = grid[:len(par)]
                col = shade(key, em)
                ax.fill_between(x, par, dau, color=col, alpha=0.8, lw=0, zorder=2)
                ax.plot(x, par, '-o', color=col, lw=2.5, ms=8, zorder=2)
                ax.plot(x, dau, '-s', color=col, lw=2.5, ms=8, zorder=2)

        for key, mk, val in complete3n[nuc][op]:
            ax.plot(24, val, marker=mk, color=shade(key, 8), mec='k', mew=1.5,
                    ms=9, ls='none', zorder=5)

        ax.set_xlim(15, xmax)
        ax.set_ylim(*YLIMS[r])
        ax.xaxis.set_major_locator(MultipleLocator(2))
        ax.xaxis.set_minor_locator(MultipleLocator(1))
        ax.yaxis.set_major_locator(FixedLocator(YMAJOR[r]))
        ax.yaxis.set_minor_locator(MultipleLocator(YMINOR[r]))
        ax.tick_params(which='both', direction='inout', top=True, right=False,
                       labelsize=19, pad=2)
        ax.tick_params(which='major', length=12, width=1.2)
        ax.tick_params(which='minor', length=7, width=1.0)
        ax.spines['right'].set_visible(False)
        for s in ax.spines.values():
            s.set_linewidth(1.2)
        if c > 0:
            ax.tick_params(labelleft=False)
        if r < 3:
            ax.tick_params(labelbottom=False)

        # infinity panel
        pos = INF_POS['ge'] if nuc == 'ge' else INF_POS['rest']
        for key, (lo, hi) in inf_ranges[nuc][op].items():
            axi.errorbar(pos[key], (lo + hi) / 2, yerr=(hi - lo) / 2, fmt='none',
                         ecolor=shade(key, 14), elinewidth=3, capsize=7, capthick=3)
        axi.set_xlim(0, 1)
        axi.set_ylim(*YLIMS[r])
        axi.set_xticks([0.55])
        axi.set_xticklabels([r'$\infty$'] if r == 3 else [''])
        axi.yaxis.set_major_locator(FixedLocator(YMAJOR[r]))
        axi.yaxis.set_minor_locator(MultipleLocator(YMINOR[r]))
        axi.tick_params(axis='x', which='both', direction='inout', top=True,
                        length=12, width=1.2, labelsize=19, pad=2)
        axi.tick_params(axis='y', which='both', direction='in', left=False,
                        right=True, labelleft=False)
        axi.tick_params(axis='y', which='major', length=10, width=1.2)
        axi.tick_params(axis='y', which='minor', length=6, width=1.0)
        axi.spines['left'].set_visible(False)
        for s in axi.spines.values():
            s.set_linewidth(1.2)

        # break marks
        for yb in (0, 1):
            for dx in (-0.007, 0.007):
                ax.plot([1 + dx - 0.005, 1 + dx + 0.005], [yb - 0.035, yb + 0.035],
                        transform=ax.transAxes, color='k', lw=1.3,
                        clip_on=False, zorder=10)

        if r == 0:
            fig.text(0.92, 0.93, nucleus_labels[c], transform=ax.transAxes,
                     ha='left', va='top', fontsize=25, zorder=20)
        if r == 3:
            fig.text((left + 255) / W, 0.027, r'$E_{3\mathrm{max}}$',
                     ha='center', va='center', fontsize=30)
        if r == 3 and c == 0:
            ax.text(16.6, 0.548, 'Previous\nlimit', ha='center', va='center',
                    fontsize=17, zorder=6)

    fig.text(0.02, (bottom + row_h / 2) / H, operator_labels[r], rotation=90,
             ha='center', va='center', fontsize=28)

# e_max colour key
cax = fig.add_axes([2064 / W, (H - 1008) / H, 93 / W, 885 / H])
for i, key in enumerate(['EM18', 'EM20', 'DGO', 'N3LO', 'N4LO']):
    for em in emax_values:
        cax.add_patch(Rectangle((i, em - 1), 1, 2, facecolor=shade(key, em),
                                edgecolor='k', lw=1))
cax.set_xlim(0, 5)
cax.set_ylim(7, 15)
cax.set_xticks([])
cax.yaxis.tick_right()
cax.set_yticks([8, 10, 12, 14])
cax.tick_params(axis='y', labelsize=19, length=6, width=1.2)
cax.yaxis.set_label_position('right')
cax.set_ylabel(r'$e_{\mathrm{max}}$', fontsize=30, labelpad=12)

# legends
h_par = Line2D([], [], color='gray', marker='o', lw=2.5, ms=8)
h_dau = Line2D([], [], color='gray', marker='s', lw=2.5, ms=8)
h_c3o = Line2D([], [], ls='none', marker='o', color='gray', mec='#333333', ms=8)
h_c3s = Line2D([], [], ls='none', marker='s', color='gray', mec='#333333', ms=8)
fig.legend([h_par, h_dau, (h_c3o, h_c3s)],
           ['Parent ref.', 'Daughter ref.', 'Complete 3N forces'],
           ncol=2, loc='upper left', bbox_to_anchor=(172 / W, 1 - 3 / H),
           borderaxespad=0, fontsize=20, labelspacing=0.6, borderpad=0.55,
           handlelength=1.7, columnspacing=0.4,
           handler_map={tuple: HandlerTuple(ndivide=None, pad=0.6)})

grad_handles = [GradientKey(CMAPS[k]) for k in ['EM18', 'EM20', 'DGO', 'N3LO', 'N4LO']]
fig.legend(grad_handles,
           ['EM(1.8/2.0)', 'EM(2.0/2.0)', r'$\Delta_{GO}$', r'$N3LO_{LNL}$', r'$N4LO_{LNL}$'],
           ncol=3, loc='upper left', bbox_to_anchor=(1181 / W, 1.0),
           borderaxespad=0, fontsize=21, labelspacing=0.5, borderpad=0.5,
           handlelength=1.9, columnspacing=2.0,
           handler_map={GradientKey: GradientHandler()})

fig.savefig('out.png', dpi=100)
